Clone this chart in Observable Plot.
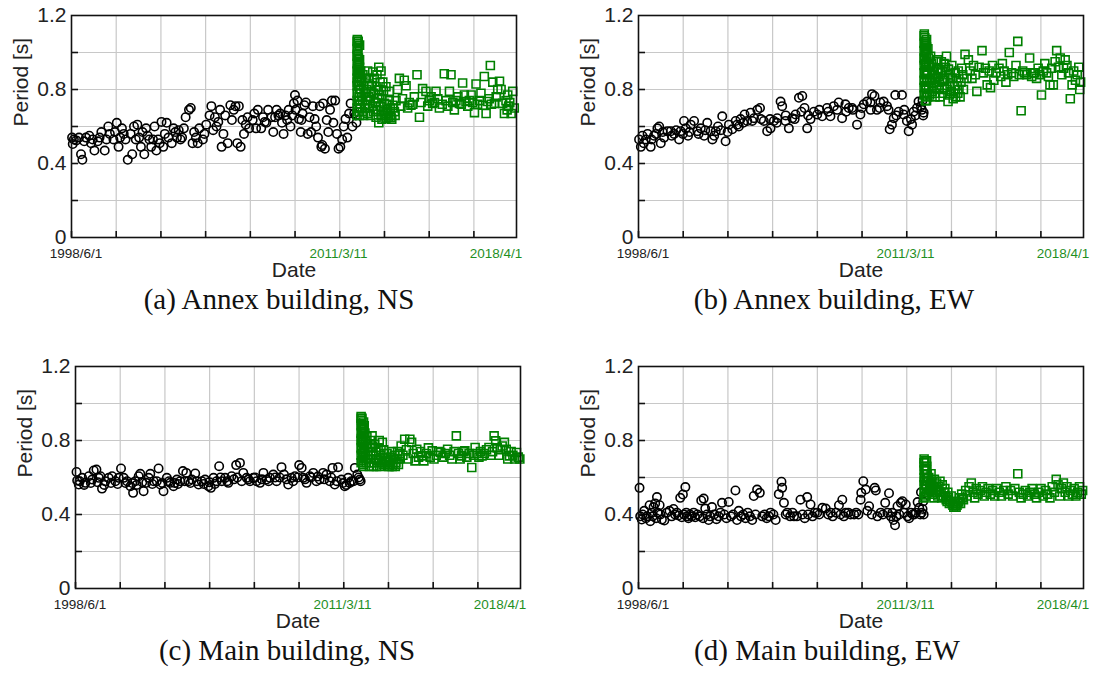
<!DOCTYPE html>
<html><head><meta charset="utf-8">
<script src="https://cdn.jsdelivr.net/npm/d3@7"></script>
<script src="https://cdn.jsdelivr.net/npm/@observablehq/plot@0.6"></script>
<style>
html,body{margin:0;padding:0;background:#fff}
#root{position:relative;width:1094px;height:679px;overflow:hidden;background:#fff}
#root svg{position:absolute}
</style></head><body><div id="root"></div>
<script>
// ---- data: [decimal year, period (s)] ----
const annexNS_pre = [[1998.44,0.54],[1998.47,0.505],[1998.52,0.53],[1998.63,0.525],[1998.75,0.54],[1998.84,0.45],[1998.90,0.42],[1998.98,0.52],[1999.06,0.54],[1999.21,0.55],[1999.29,0.51],[1999.36,0.53],[1999.44,0.47],[1999.59,0.52],[1999.67,0.54],[1999.75,0.57],[1999.90,0.47],[1999.98,0.53],[2000.06,0.60],[2000.13,0.56],[2000.29,0.53],[2000.36,0.57],[2000.44,0.62],[2000.52,0.49],[2000.59,0.54],[2000.67,0.59],[2000.75,0.56],[2000.83,0.53],[2000.93,0.42],[2001.06,0.56],[2001.13,0.45],[2001.21,0.60],[2001.29,0.53],[2001.36,0.61],[2001.44,0.54],[2001.52,0.49],[2001.59,0.57],[2001.67,0.45],[2001.75,0.59],[2001.82,0.55],[2001.90,0.53],[2001.98,0.49],[2002.06,0.53],[2002.13,0.60],[2002.21,0.47],[2002.29,0.53],[2002.36,0.51],[2002.44,0.625],[2002.52,0.49],[2002.59,0.56],[2002.67,0.62],[2002.75,0.54],[2002.90,0.51],[2002.98,0.59],[2003.06,0.57],[2003.13,0.54],[2003.21,0.58],[2003.29,0.53],[2003.36,0.54],[2003.44,0.59],[2003.52,0.65],[2003.67,0.69],[2003.75,0.70],[2003.83,0.51],[2003.90,0.57],[2003.98,0.54],[2004.06,0.51],[2004.13,0.59],[2004.29,0.53],[2004.36,0.56],[2004.44,0.61],[2004.59,0.66],[2004.67,0.71],[2004.75,0.58],[2004.83,0.65],[2004.90,0.60],[2004.98,0.625],[2005.06,0.69],[2005.13,0.49],[2005.21,0.56],[2005.29,0.66],[2005.40,0.51],[2005.52,0.715],[2005.59,0.635],[2005.67,0.69],[2005.75,0.71],[2005.83,0.51],[2005.90,0.71],[2005.98,0.49],[2006.06,0.635],[2006.13,0.56],[2006.21,0.61],[2006.29,0.65],[2006.36,0.59],[2006.52,0.635],[2006.59,0.67],[2006.67,0.59],[2006.75,0.69],[2006.90,0.59],[2006.98,0.65],[2007.06,0.625],[2007.13,0.62],[2007.21,0.69],[2007.36,0.65],[2007.44,0.57],[2007.52,0.65],[2007.59,0.69],[2007.67,0.66],[2007.75,0.67],[2007.83,0.62],[2007.90,0.56],[2007.98,0.66],[2008.06,0.635],[2008.13,0.69],[2008.21,0.60],[2008.29,0.66],[2008.36,0.725],[2008.41,0.77],[2008.44,0.69],[2008.52,0.74],[2008.59,0.64],[2008.67,0.57],[2008.70,0.635],[2008.75,0.67],[2008.83,0.715],[2008.90,0.73],[2008.98,0.56],[2009.06,0.65],[2009.13,0.57],[2009.21,0.71],[2009.29,0.64],[2009.36,0.60],[2009.44,0.54],[2009.52,0.71],[2009.59,0.49],[2009.63,0.50],[2009.67,0.725],[2009.75,0.48],[2009.83,0.635],[2009.90,0.57],[2009.98,0.69],[2010.06,0.74],[2010.13,0.62],[2010.21,0.74],[2010.29,0.56],[2010.36,0.48],[2010.44,0.49],[2010.52,0.53],[2010.59,0.60],[2010.67,0.64],[2010.75,0.54],[2010.83,0.67],[2010.90,0.725],[2010.98,0.60],[2011.06,0.67],[2011.13,0.66],[2011.16,0.62]];
const annexNS_post = [[2011.20,1.07],[2011.22,1.05],[2011.21,1.03],[2011.24,1.06],[2011.23,1.01],[2011.20,0.99],[2011.25,0.97],[2011.22,0.95],[2011.27,0.93],[2011.21,0.91],[2011.26,0.89],[2011.23,0.87],[2011.29,0.86],[2011.20,0.84],[2011.25,0.82],[2011.31,0.80],[2011.22,0.78],[2011.28,0.76],[2011.24,0.74],[2011.33,0.72],[2011.21,0.70],[2011.27,0.68],[2011.19,1.06],[2011.19,1.02],[2011.19,0.98],[2011.19,0.94],[2011.19,0.90],[2011.19,0.86],[2011.19,0.82],[2011.19,0.78],[2011.19,0.74],[2011.19,0.70],[2011.19,0.66],[2011.30,1.04],[2011.30,0.96],[2011.30,0.92],[2011.30,0.88],[2011.30,0.84],[2011.30,0.78],[2011.30,0.74],[2011.30,0.70],[2011.35,0.90],[2011.38,0.85],[2011.36,0.80],[2011.40,0.76],[2011.34,0.72],[2011.42,0.68],[2011.30,0.66],[2011.45,0.88],[2011.47,0.82],[2011.50,0.78],[2011.44,0.74],[2011.52,0.70],[2011.48,0.66],[2011.55,0.86],[2011.58,0.72],[2011.59,0.76],[2011.62,0.80],[2011.66,0.90],[2011.66,0.67],[2011.70,0.76],[2011.70,0.86],[2011.74,0.83],[2011.74,0.70],[2011.78,0.74],[2011.78,0.66],[2011.81,0.79],[2011.85,0.82],[2011.89,0.895],[2011.89,0.71],[2011.93,0.68],[2011.93,0.78],[2011.96,0.86],[2012.00,0.73],[2012.04,0.815],[2012.04,0.65],[2012.08,0.69],[2012.08,0.88],[2012.11,0.75],[2012.13,0.80],[2012.16,0.92],[2012.16,0.62],[2012.19,0.77],[2012.22,0.71],[2012.22,0.84],[2012.26,0.90],[2012.26,0.66],[2012.30,0.75],[2012.30,0.64],[2012.34,0.84],[2012.37,0.68],[2012.37,0.79],[2012.41,0.725],[2012.44,0.66],[2012.48,0.815],[2012.48,0.645],[2012.52,0.72],[2012.52,0.67],[2012.56,0.69],[2012.59,0.65],[2012.63,0.74],[2012.63,0.79],[2012.67,0.70],[2012.67,0.66],[2012.71,0.65],[2012.74,0.64],[2012.78,0.715],[2012.82,0.70],[2012.86,0.68],[2012.89,0.66],[2012.93,0.74],[2013.00,0.80],[2013.08,0.86],[2013.15,0.71],[2013.22,0.75],[2013.30,0.85],[2013.38,0.82],[2013.45,0.70],[2013.52,0.73],[2013.60,0.715],[2013.68,0.72],[2013.75,0.76],[2013.87,0.88],[2013.98,0.65],[2014.05,0.73],[2014.12,0.805],[2014.27,0.79],[2014.35,0.71],[2014.42,0.74],[2014.50,0.76],[2014.57,0.725],[2014.65,0.73],[2014.72,0.79],[2014.80,0.75],[2014.87,0.70],[2015.00,0.72],[2015.09,0.885],[2015.17,0.74],[2015.25,0.71],[2015.32,0.79],[2015.39,0.88],[2015.47,0.73],[2015.54,0.69],[2015.61,0.74],[2015.70,0.76],[2015.77,0.725],[2015.85,0.72],[2015.91,0.835],[2015.99,0.77],[2016.06,0.735],[2016.14,0.71],[2016.21,0.74],[2016.29,0.77],[2016.36,0.73],[2016.44,0.675],[2016.51,0.83],[2016.58,0.72],[2016.66,0.74],[2016.73,0.78],[2016.81,0.715],[2016.88,0.87],[2016.96,0.67],[2017.03,0.735],[2017.10,0.75],[2017.15,0.93],[2017.20,0.72],[2017.26,0.84],[2017.33,0.725],[2017.41,0.76],[2017.48,0.80],[2017.56,0.845],[2017.63,0.80],[2017.70,0.725],[2017.78,0.67],[2017.85,0.74],[2017.90,0.69],[2017.93,0.77],[2017.97,0.71],[2018.02,0.73],[2018.08,0.67],[2018.15,0.79],[2018.22,0.70]];

const annexEW_pre = [[1998.44,0.53],[1998.52,0.49],[1998.59,0.55],[1998.65,0.51],[1998.74,0.53],[1998.82,0.56],[1998.96,0.49],[1999.00,0.53],[1999.11,0.55],[1999.20,0.56],[1999.26,0.59],[1999.34,0.60],[1999.41,0.51],[1999.50,0.57],[1999.56,0.54],[1999.71,0.575],[1999.86,0.575],[1999.90,0.55],[2000.01,0.56],[2000.10,0.58],[2000.23,0.53],[2000.30,0.575],[2000.40,0.56],[2000.45,0.63],[2000.53,0.59],[2000.63,0.55],[2000.70,0.57],[2000.75,0.61],[2000.90,0.63],[2001.05,0.575],[2001.10,0.56],[2001.20,0.59],[2001.35,0.55],[2001.40,0.58],[2001.49,0.62],[2001.64,0.575],[2001.72,0.53],[2001.80,0.55],[2001.87,0.575],[2001.97,0.60],[2002.10,0.58],[2002.16,0.655],[2002.31,0.52],[2002.40,0.57],[2002.46,0.61],[2002.61,0.585],[2002.76,0.63],[2002.83,0.61],[2002.90,0.60],[2002.98,0.64],[2003.10,0.62],[2003.16,0.665],[2003.28,0.63],[2003.43,0.675],[2003.50,0.63],[2003.58,0.645],[2003.73,0.69],[2003.85,0.70],[2003.90,0.64],[2004.02,0.63],[2004.17,0.575],[2004.30,0.64],[2004.32,0.59],[2004.47,0.63],[2004.60,0.62],[2004.62,0.645],[2004.77,0.735],[2004.84,0.71],[2004.99,0.63],[2005.00,0.66],[2005.14,0.59],[2005.29,0.645],[2005.40,0.64],[2005.44,0.665],[2005.59,0.755],[2005.70,0.68],[2005.74,0.765],[2005.84,0.70],[2005.96,0.59],[2006.00,0.66],[2006.11,0.64],[2006.26,0.68],[2006.41,0.665],[2006.50,0.69],[2006.63,0.655],[2006.85,0.70],[2006.90,0.68],[2007.00,0.655],[2007.15,0.71],[2007.30,0.69],[2007.37,0.73],[2007.52,0.645],[2007.67,0.72],[2007.70,0.68],[2007.82,0.70],[2007.97,0.70],[2008.00,0.69],[2008.19,0.61],[2008.34,0.665],[2008.40,0.70],[2008.49,0.72],[2008.64,0.735],[2008.79,0.73],[2008.80,0.69],[2008.86,0.775],[2008.97,0.765],[2009.08,0.69],[2009.20,0.70],[2009.23,0.73],[2009.38,0.735],[2009.53,0.71],[2009.60,0.69],[2009.65,0.585],[2009.75,0.61],[2009.83,0.645],[2009.90,0.77],[2009.95,0.66],[2010.05,0.68],[2010.20,0.77],[2010.27,0.665],[2010.30,0.69],[2010.42,0.63],[2010.50,0.575],[2010.60,0.64],[2010.65,0.61],[2010.72,0.68],[2010.80,0.66],[2010.87,0.70],[2010.94,0.735],[2011.05,0.71],[2011.09,0.69],[2011.12,0.74],[2011.15,0.66],[2011.17,0.675]];
const annexEW_post = [[2011.20,1.10],[2011.22,1.08],[2011.24,1.06],[2011.21,1.04],[2011.26,1.02],[2011.23,1.00],[2011.28,0.98],[2011.20,0.96],[2011.25,0.94],[2011.30,0.92],[2011.22,0.90],[2011.27,0.88],[2011.32,0.86],[2011.21,0.84],[2011.26,0.82],[2011.29,0.80],[2011.23,0.78],[2011.34,0.76],[2011.25,0.74],[2011.19,1.09],[2011.19,1.05],[2011.19,1.01],[2011.19,0.97],[2011.19,0.93],[2011.19,0.89],[2011.19,0.85],[2011.19,0.81],[2011.19,0.77],[2011.30,1.07],[2011.30,1.03],[2011.30,0.99],[2011.30,0.95],[2011.30,0.90],[2011.30,0.84],[2011.30,0.78],[2011.30,0.74],[2011.36,1.02],[2011.38,0.97],[2011.40,0.93],[2011.35,0.89],[2011.42,0.85],[2011.39,0.81],[2011.44,0.77],[2011.48,0.98],[2011.50,0.85],[2011.52,0.94],[2011.55,0.90],[2011.55,0.79],[2011.58,0.86],[2011.60,0.92],[2011.62,0.82],[2011.64,0.88],[2011.66,0.84],[2011.68,0.76],[2011.70,0.78],[2011.72,0.86],[2011.74,0.95],[2011.76,0.81],[2011.78,0.91],[2011.80,0.96],[2011.82,0.87],[2011.84,0.91],[2011.86,0.80],[2011.88,0.84],[2011.90,0.76],[2011.92,0.89],[2011.96,0.95],[2012.00,0.90],[2012.02,0.78],[2012.05,0.85],[2012.08,0.94],[2012.10,0.81],[2012.12,0.86],[2012.15,0.92],[2012.19,0.98],[2012.22,0.80],[2012.26,0.735],[2012.28,0.91],[2012.30,0.88],[2012.33,0.77],[2012.35,0.83],[2012.38,0.86],[2012.40,0.79],[2012.43,0.93],[2012.45,0.86],[2012.49,0.75],[2012.52,0.78],[2012.55,0.82],[2012.58,0.89],[2012.60,0.76],[2012.64,0.86],[2012.67,0.82],[2012.70,0.78],[2012.72,0.90],[2012.75,0.80],[2012.80,0.76],[2012.84,0.84],[2012.87,0.915],[2012.92,0.88],[2012.95,0.80],[2013.02,0.99],[2013.10,0.86],[2013.17,0.96],[2013.25,0.90],[2013.33,0.86],[2013.40,0.93],[2013.48,0.88],[2013.55,0.79],[2013.65,0.92],[2013.78,1.01],[2013.85,0.89],[2013.93,0.915],[2014.01,0.825],[2014.10,0.90],[2014.16,0.81],[2014.25,0.93],[2014.31,0.85],[2014.40,0.89],[2014.54,0.915],[2014.62,0.87],[2014.69,0.94],[2014.77,0.90],[2014.85,0.84],[2014.93,0.88],[2015.00,1.00],[2015.10,0.89],[2015.20,0.87],[2015.30,0.93],[2015.38,1.06],[2015.45,0.88],[2015.53,0.685],[2015.60,0.90],[2015.68,0.89],[2015.78,0.88],[2015.91,0.97],[2016.00,0.87],[2016.08,0.89],[2016.14,0.89],[2016.22,0.86],[2016.29,0.915],[2016.36,0.88],[2016.44,0.77],[2016.52,0.90],[2016.59,0.94],[2016.67,0.89],[2016.75,0.87],[2016.82,0.825],[2016.90,0.915],[2016.97,0.825],[2017.05,0.95],[2017.12,1.01],[2017.20,0.92],[2017.28,0.97],[2017.35,0.88],[2017.43,0.915],[2017.50,0.96],[2017.58,0.93],[2017.65,0.89],[2017.73,0.75],[2017.81,0.825],[2017.88,0.90],[2017.96,0.85],[2018.04,0.88],[2018.11,0.92],[2018.15,0.80],[2018.19,0.84]];

const mainNS_pre = [[1998.46,0.63],[1998.49,0.584],[1998.56,0.562],[1998.60,0.58],[1998.71,0.598],[1998.80,0.56],[1998.86,0.571],[1999.01,0.607],[1999.10,0.57],[1999.16,0.589],[1999.23,0.638],[1999.35,0.643],[1999.40,0.575],[1999.46,0.598],[1999.53,0.607],[1999.60,0.54],[1999.70,0.56],[1999.75,0.58],[1999.90,0.598],[2000.00,0.57],[2000.05,0.607],[2000.20,0.58],[2000.30,0.565],[2000.35,0.598],[2000.45,0.649],[2000.57,0.598],[2000.65,0.57],[2000.72,0.58],[2000.87,0.553],[2000.95,0.57],[2000.99,0.517],[2001.09,0.58],[2001.15,0.56],[2001.24,0.607],[2001.31,0.62],[2001.40,0.575],[2001.46,0.526],[2001.58,0.571],[2001.69,0.598],[2001.76,0.62],[2001.85,0.565],[2001.91,0.58],[2002.05,0.58],[2002.13,0.649],[2002.21,0.562],[2002.30,0.57],[2002.35,0.526],[2002.50,0.598],[2002.60,0.58],[2002.65,0.571],[2002.80,0.553],[2002.85,0.57],[2002.95,0.589],[2003.00,0.565],[2003.10,0.58],[2003.22,0.635],[2003.30,0.58],[2003.37,0.625],[2003.47,0.58],[2003.55,0.57],[2003.62,0.589],[2003.77,0.622],[2003.85,0.58],[2003.92,0.562],[2004.06,0.58],[2004.15,0.565],[2004.21,0.589],[2004.36,0.553],[2004.40,0.575],[2004.47,0.544],[2004.59,0.598],[2004.65,0.565],[2004.73,0.58],[2004.84,0.661],[2004.90,0.60],[2004.96,0.58],[2005.11,0.598],[2005.20,0.58],[2005.25,0.571],[2005.40,0.607],[2005.50,0.59],[2005.60,0.667],[2005.65,0.60],[2005.77,0.679],[2005.85,0.58],[2005.92,0.625],[2006.07,0.598],[2006.15,0.59],[2006.22,0.58],[2006.37,0.598],[2006.45,0.60],[2006.52,0.58],[2006.67,0.571],[2006.75,0.59],[2006.82,0.625],[2006.96,0.589],[2007.05,0.58],[2007.11,0.598],[2007.26,0.616],[2007.35,0.60],[2007.41,0.58],[2007.55,0.60],[2007.63,0.656],[2007.74,0.616],[2007.85,0.59],[2007.93,0.562],[2008.08,0.598],[2008.15,0.58],[2008.23,0.607],[2008.35,0.60],[2008.42,0.667],[2008.53,0.652],[2008.60,0.598],[2008.68,0.59],[2008.75,0.571],[2008.90,0.607],[2008.95,0.60],[2009.05,0.625],[2009.19,0.58],[2009.25,0.605],[2009.34,0.589],[2009.49,0.625],[2009.55,0.59],[2009.64,0.616],[2009.79,0.58],[2009.85,0.60],[2009.91,0.652],[2010.01,0.562],[2010.10,0.58],[2010.16,0.656],[2010.31,0.589],[2010.38,0.57],[2010.46,0.553],[2010.53,0.56],[2010.61,0.598],[2010.68,0.57],[2010.75,0.58],[2010.85,0.58],[2010.91,0.652],[2011.02,0.616],[2011.08,0.60],[2011.13,0.589],[2011.17,0.58]];
const mainNS_post = [[2011.19,0.93],[2011.21,0.91],[2011.23,0.92],[2011.20,0.89],[2011.25,0.87],[2011.22,0.85],[2011.27,0.83],[2011.20,0.81],[2011.24,0.79],[2011.29,0.77],[2011.21,0.75],[2011.26,0.73],[2011.31,0.71],[2011.23,0.69],[2011.28,0.67],[2011.19,0.92],[2011.19,0.88],[2011.19,0.84],[2011.19,0.80],[2011.19,0.76],[2011.19,0.72],[2011.19,0.68],[2011.30,0.90],[2011.30,0.86],[2011.30,0.82],[2011.30,0.78],[2011.30,0.74],[2011.30,0.70],[2011.30,0.66],[2011.33,0.88],[2011.36,0.84],[2011.38,0.80],[2011.35,0.76],[2011.40,0.72],[2011.42,0.68],[2011.45,0.82],[2011.48,0.78],[2011.50,0.74],[2011.53,0.70],[2011.56,0.66],[2011.60,0.80],[2011.62,0.72],[2011.64,0.76],[2011.66,0.68],[2011.68,0.825],[2011.70,0.77],[2011.72,0.72],[2011.74,0.66],[2011.76,0.68],[2011.80,0.78],[2011.83,0.70],[2011.85,0.74],[2011.88,0.66],[2011.90,0.70],[2011.95,0.76],[2011.98,0.69],[2012.00,0.80],[2012.02,0.66],[2012.05,0.72],[2012.08,0.75],[2012.10,0.68],[2012.14,0.79],[2012.17,0.67],[2012.20,0.75],[2012.23,0.73],[2012.25,0.70],[2012.30,0.67],[2012.33,0.69],[2012.35,0.73],[2012.40,0.69],[2012.42,0.66],[2012.45,0.66],[2012.48,0.68],[2012.50,0.71],[2012.55,0.74],[2012.58,0.66],[2012.62,0.67],[2012.65,0.70],[2012.68,0.72],[2012.72,0.66],[2012.75,0.68],[2012.80,0.70],[2012.82,0.74],[2012.86,0.67],[2012.90,0.70],[2012.93,0.73],[2012.98,0.77],[2013.06,0.72],[2013.14,0.807],[2013.22,0.75],[2013.30,0.70],[2013.37,0.807],[2013.45,0.79],[2013.52,0.73],[2013.60,0.69],[2013.68,0.753],[2013.76,0.71],[2013.84,0.74],[2013.91,0.717],[2014.00,0.69],[2014.10,0.73],[2014.20,0.76],[2014.28,0.71],[2014.37,0.744],[2014.45,0.70],[2014.55,0.72],[2014.65,0.74],[2014.75,0.735],[2014.85,0.71],[2014.95,0.73],[2015.06,0.753],[2015.15,0.72],[2015.25,0.70],[2015.35,0.74],[2015.45,0.825],[2015.55,0.73],[2015.62,0.70],[2015.68,0.717],[2015.76,0.74],[2015.83,0.744],[2015.92,0.71],[2016.02,0.73],[2016.14,0.654],[2016.22,0.72],[2016.29,0.762],[2016.38,0.73],[2016.46,0.71],[2016.53,0.74],[2016.60,0.717],[2016.70,0.73],[2016.80,0.75],[2016.91,0.762],[2017.00,0.72],[2017.07,0.74],[2017.14,0.825],[2017.21,0.798],[2017.28,0.76],[2017.35,0.72],[2017.42,0.75],[2017.50,0.77],[2017.60,0.79],[2017.68,0.753],[2017.75,0.70],[2017.83,0.717],[2017.90,0.74],[2017.98,0.72],[2018.06,0.70],[2018.14,0.735],[2018.22,0.71],[2018.29,0.70]];

const mainEW_pre = [[1998.46,0.544],[1998.49,0.39],[1998.56,0.373],[1998.60,0.40],[1998.67,0.42],[1998.75,0.38],[1998.79,0.39],[1998.91,0.45],[1998.94,0.364],[1999.01,0.41],[1999.05,0.39],[1999.09,0.44],[1999.16,0.46],[1999.20,0.38],[1999.24,0.494],[1999.27,0.41],[1999.36,0.45],[1999.40,0.40],[1999.46,0.373],[1999.57,0.368],[1999.68,0.41],[1999.80,0.42],[1999.90,0.39],[1999.98,0.43],[2000.05,0.40],[2000.13,0.41],[2000.20,0.395],[2000.28,0.49],[2000.35,0.385],[2000.40,0.508],[2000.45,0.40],[2000.51,0.548],[2000.55,0.41],[2000.58,0.39],[2000.65,0.38],[2000.72,0.40],[2000.80,0.39],[2000.88,0.41],[2000.95,0.385],[2001.05,0.40],[2001.15,0.39],[2001.22,0.476],[2001.30,0.38],[2001.33,0.486],[2001.40,0.432],[2001.48,0.40],[2001.55,0.37],[2001.62,0.39],[2001.70,0.44],[2001.80,0.40],[2001.90,0.375],[2002.00,0.39],[2002.08,0.41],[2002.15,0.463],[2002.25,0.40],[2002.35,0.38],[2002.45,0.468],[2002.55,0.39],[2002.65,0.40],[2002.75,0.53],[2002.82,0.37],[2002.90,0.42],[2003.00,0.39],[2003.10,0.40],[2003.20,0.38],[2003.30,0.41],[2003.40,0.39],[2003.50,0.37],[2003.57,0.50],[2003.65,0.40],[2003.72,0.535],[2003.84,0.517],[2003.95,0.39],[2004.05,0.40],[2004.15,0.38],[2004.25,0.39],[2004.32,0.41],[2004.45,0.40],[2004.55,0.37],[2004.69,0.51],[2004.81,0.577],[2004.84,0.544],[2004.92,0.463],[2005.00,0.40],[2005.07,0.41],[2005.20,0.39],[2005.30,0.41],[2005.37,0.39],[2005.50,0.39],[2005.66,0.48],[2005.75,0.40],[2005.85,0.38],[2005.96,0.494],[2006.00,0.40],[2006.11,0.454],[2006.20,0.39],[2006.30,0.41],[2006.41,0.41],[2006.50,0.40],[2006.64,0.436],[2006.79,0.432],[2006.90,0.40],[2007.01,0.41],[2007.10,0.39],[2007.25,0.41],[2007.38,0.45],[2007.45,0.40],[2007.53,0.48],[2007.60,0.39],[2007.68,0.409],[2007.80,0.41],[2007.90,0.40],[2008.06,0.40],[2008.15,0.41],[2008.25,0.40],[2008.35,0.48],[2008.38,0.517],[2008.47,0.58],[2008.58,0.535],[2008.65,0.42],[2008.73,0.445],[2008.85,0.40],[2008.98,0.544],[2009.03,0.53],[2009.10,0.39],[2009.25,0.41],[2009.35,0.40],[2009.45,0.463],[2009.55,0.41],[2009.62,0.515],[2009.70,0.39],[2009.77,0.409],[2009.82,0.37],[2009.89,0.342],[2009.95,0.39],[2010.00,0.445],[2010.08,0.40],[2010.15,0.463],[2010.22,0.472],[2010.30,0.41],[2010.37,0.454],[2010.45,0.39],[2010.52,0.38],[2010.60,0.41],[2010.68,0.40],[2010.75,0.40],[2010.82,0.41],[2010.90,0.467],[2010.97,0.436],[2011.02,0.40],[2011.05,0.52],[2011.08,0.41],[2011.12,0.43],[2011.15,0.47],[2011.17,0.40]];
const mainEW_post = [[2011.19,0.70],[2011.21,0.68],[2011.23,0.69],[2011.20,0.66],[2011.25,0.64],[2011.22,0.62],[2011.27,0.60],[2011.20,0.58],[2011.24,0.56],[2011.29,0.54],[2011.21,0.52],[2011.26,0.50],[2011.19,0.68],[2011.19,0.64],[2011.19,0.60],[2011.19,0.56],[2011.19,0.52],[2011.19,0.49],[2011.30,0.69],[2011.30,0.64],[2011.30,0.60],[2011.30,0.58],[2011.30,0.51],[2011.31,0.66],[2011.33,0.62],[2011.35,0.58],[2011.30,0.55],[2011.38,0.52],[2011.40,0.60],[2011.43,0.56],[2011.46,0.53],[2011.48,0.57],[2011.50,0.62],[2011.53,0.58],[2011.56,0.51],[2011.58,0.53],[2011.60,0.55],[2011.63,0.49],[2011.65,0.59],[2011.70,0.52],[2011.72,0.55],[2011.75,0.57],[2011.78,0.53],[2011.80,0.50],[2011.85,0.55],[2011.88,0.52],[2011.90,0.58],[2011.95,0.52],[2011.98,0.49],[2012.00,0.56],[2012.05,0.50],[2012.08,0.52],[2012.12,0.54],[2012.15,0.50],[2012.18,0.48],[2012.22,0.47],[2012.25,0.52],[2012.28,0.49],[2012.32,0.46],[2012.36,0.47],[2012.40,0.50],[2012.44,0.46],[2012.48,0.45],[2012.52,0.44],[2012.55,0.47],[2012.58,0.45],[2012.62,0.44],[2012.66,0.45],[2012.70,0.46],[2012.74,0.47],[2012.78,0.49],[2012.82,0.46],[2012.87,0.51],[2012.90,0.49],[2012.95,0.48],[2013.05,0.53],[2013.12,0.50],[2013.20,0.55],[2013.30,0.57],[2013.38,0.52],[2013.45,0.49],[2013.52,0.54],[2013.60,0.51],[2013.70,0.53],[2013.80,0.55],[2013.88,0.50],[2013.96,0.52],[2014.05,0.54],[2014.15,0.51],[2014.25,0.53],[2014.35,0.50],[2014.45,0.54],[2014.55,0.52],[2014.65,0.50],[2014.75,0.53],[2014.85,0.55],[2014.95,0.51],[2015.05,0.53],[2015.15,0.50],[2015.25,0.54],[2015.38,0.62],[2015.45,0.52],[2015.53,0.49],[2015.62,0.51],[2015.72,0.53],[2015.82,0.50],[2015.92,0.52],[2016.02,0.54],[2016.12,0.51],[2016.22,0.49],[2016.32,0.52],[2016.42,0.54],[2016.52,0.50],[2016.62,0.53],[2016.72,0.51],[2016.82,0.49],[2016.92,0.55],[2017.02,0.52],[2017.10,0.59],[2017.18,0.56],[2017.26,0.50],[2017.34,0.54],[2017.42,0.57],[2017.50,0.52],[2017.58,0.55],[2017.66,0.50],[2017.74,0.53],[2017.82,0.51],[2017.90,0.54],[2017.98,0.50],[2018.06,0.52],[2018.14,0.55],[2018.22,0.51],[2018.28,0.53]];

const captions = ["(a) Annex building, NS", "(b) Annex building, EW", "(c) Main building, NS", "(d) Main building, EW"];
const dateTickLabels = ["1998/6/1", "2011/3/11", "2018/4/1"];
const dateTickYears = [1998.414, 2011.19, 2018.25];
const periodTicks = [0, 0.4, 0.8, 1.2];
const periodGrid = [0.2, 0.4, 0.6, 0.8, 1.0];

// ---- layout / style ----
const xStart = 1998.414, xEnd = 2018.32;
const gridYears = d3.range(xStart, xEnd - 0.5, 2);
const W = 445, H = 222, ml = 70, mr = 14, mt = 12, mb = 100;
const GREEN = "#008000", LABEL_GREEN = "#1f8f1f", GRID = "#c8c8c8", INK = "#111";
const dateColors = ["#222", LABEL_GREEN, LABEL_GREEN];
const dateDx = [4.5, -18.5, -19];
const panels = [
  {pre: annexNS_pre, post: annexNS_post, cap: captions[0], left: 71, top: 15, capDx: -15},
  {pre: annexEW_pre, post: annexEW_post, cap: captions[1], left: 638, top: 14.5, capDx: -27},
  {pre: mainNS_pre, post: mainNS_post, cap: captions[2], left: 74.5, top: 365.5, capDx: -11},
  {pre: mainEW_pre, post: mainEW_post, cap: captions[3], left: 638, top: 365.5, capDx: -34}
];

const root = document.getElementById("root");
for (const p of panels) {
  const pre = p.pre.map(([t, v]) => ({t, v}));
  const post = p.post.map(([t, v]) => ({t, v}));
  const dates = dateTickLabels.map((label, i) => ({label, t: dateTickYears[i]}));
  const chart = Plot.plot({
    width: ml + W + mr, height: mt + H + mb,
    marginLeft: ml, marginRight: mr, marginTop: mt, marginBottom: mb,
    style: {background: "transparent", fontFamily: "'Liberation Sans', Arial, sans-serif", overflow: "visible"},
    x: {domain: [xStart, xEnd], axis: null},
    y: {domain: [0, 1.2]},
    marks: [
      Plot.ruleX(gridYears.slice(1), {stroke: GRID, strokeWidth: 1.2}),
      Plot.ruleY(periodGrid, {stroke: GRID, strokeWidth: 1.2}),
      Plot.ruleX(gridYears, {y1: 0, y2: 0, insetTop: -6, stroke: INK, strokeWidth: 1.6}),
      Plot.ruleY(periodGrid, {x1: xStart, x2: xStart, insetRight: -7, stroke: INK, strokeWidth: 1.6}),
      Plot.axisY(periodTicks, {tickSize: 0, tickPadding: 5, fontSize: 21, fill: "#222", label: null,
        tickFormat: d => d === 0 ? "0" : d.toFixed(1)}),
      Plot.text(["Period [s]"], {frameAnchor: "left", rotate: -90, dx: -50, fontSize: 21, fill: "#222"}),
      ...dates.map((d, i) => Plot.text([d], {x: "t", text: "label", frameAnchor: "bottom", dy: 20.5, dx: dateDx[i], fontSize: 13.5, fill: dateColors[i]})),
      Plot.text(["Date"], {frameAnchor: "bottom", dy: 39, fontSize: 21, fill: "#222"}),
      Plot.text([p.cap], {frameAnchor: "bottom", dy: 71.5, dx: p.capDx, fontSize: 29, fill: "#111", fontFamily: "'Liberation Serif', 'Times New Roman', serif"}),
      Plot.dot(pre, {x: "t", y: "v", r: 4.2, stroke: "#000", strokeWidth: 1.6, fill: "none"}),
      Plot.dot(post, {x: "t", y: "v", r: 4.5, symbol: "square", stroke: GREEN, strokeWidth: 1.6, fill: "none"}),
      Plot.frame({stroke: INK, strokeWidth: 1.6})
    ]
  });
  chart.style.left = (p.left - ml) + "px";
  chart.style.top = (p.top - mt) + "px";
  root.appendChild(chart);
}
</script></body></html>
